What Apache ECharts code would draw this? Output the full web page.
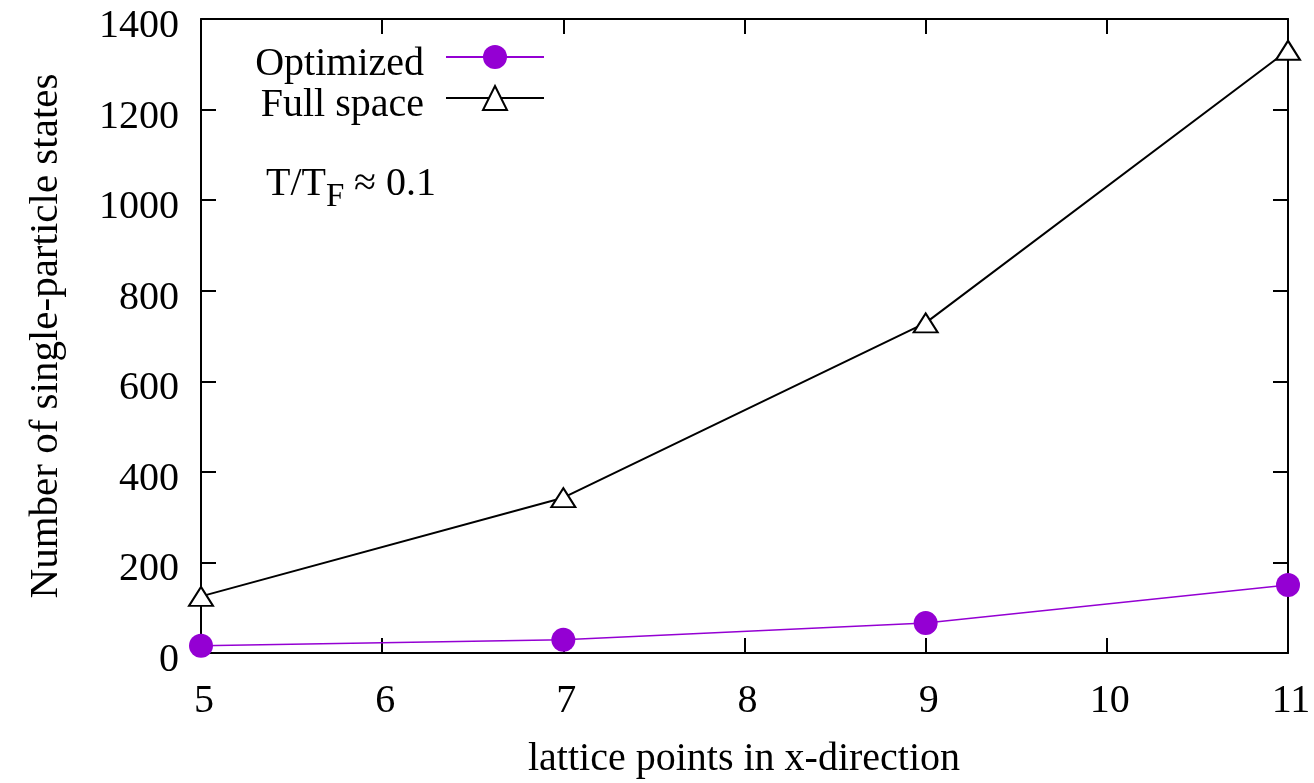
<!DOCTYPE html>
<html>
<head>
<meta charset="utf-8">
<script src="https://cdn.jsdelivr.net/npm/echarts@6/dist/echarts.min.js"></script>
<style>html,body{margin:0;padding:0;background:#fff;}#c{width:1314px;height:783px;}</style>
</head>
<body>
<div id="c"></div>
<script>
const latticePoints = [5, 7, 9, 11];
const optimized = [16, 29, 66, 150];
const fullSpace = [125, 343, 729, 1331];
const xTicks = [5, 6, 7, 8, 9, 10, 11];
const yTicks = [0, 200, 400, 600, 800, 1000, 1200, 1400];
const seriesNames = ['Optimized', 'Full space'];
const xTitle = 'lattice points in x-direction';
const yTitle = 'Number of single-particle states';

const FONT = '"Liberation Serif", "Times New Roman", serif';
const FS = 40;

const chart = echarts.init(document.getElementById('c'), null, {renderer: 'canvas'});

const axisCommon = {
  axisLine: {show: true, onZero: false, lineStyle: {color: '#000', width: 2}},
  axisTick: {show: true, inside: true, length: 15, lineStyle: {color: '#000', width: 2}},
  splitLine: {show: false}
};

const legendText = {
  fontFamily: FONT, fontSize: FS, color: '#000', lineHeight: 40, padding: [0, 17, 0, 0],
  rich: {t: {fontFamily: FONT, fontSize: FS, color: '#000', lineHeight: 40, padding: [14, 0, 0, 0]}}
};

const option = {
  backgroundColor: '#fff',
  animation: false,
  grid: {left: 201, top: 19, right: 26, bottom: 130, containLabel: false},
  xAxis: [
    Object.assign({}, axisCommon, {
      type: 'value', position: 'bottom', min: xTicks[0], max: xTicks[xTicks.length - 1], interval: 1,
      axisLabel: {show: true, margin: 28, color: '#000', fontFamily: FONT, fontSize: FS, lineHeight: 40, padding: [0, 0, 0, 6]}
    }),
    Object.assign({}, axisCommon, {
      type: 'value', position: 'top', min: xTicks[0], max: xTicks[xTicks.length - 1], interval: 1,
      axisLabel: {show: false}
    })
  ],
  yAxis: [
    Object.assign({}, axisCommon, {
      type: 'value', position: 'left', min: yTicks[0], max: yTicks[yTicks.length - 1], interval: 200,
      axisLabel: {show: true, margin: 22, color: '#000', fontFamily: FONT, fontSize: FS, lineHeight: 15, verticalAlign: 'top',
        formatter: v => String(v)}
    }),
    Object.assign({}, axisCommon, {
      type: 'value', position: 'right', min: yTicks[0], max: yTicks[yTicks.length - 1], interval: 200,
      axisLabel: {show: false}
    })
  ],
  legend: [
    {
      data: [seriesNames[0]], orient: 'vertical', align: 'right', right: 769, top: 30, padding: 0,
      itemWidth: 98, itemHeight: 30, itemGap: 0, textStyle: legendText, formatter: '{t|{name}}'
    },
    {
      data: [seriesNames[1]], orient: 'vertical', align: 'right', right: 769, top: 71, padding: 0,
      itemWidth: 98, itemHeight: 30, itemGap: 0, textStyle: legendText, formatter: '{t|{name}}'
    }
  ],
  series: [
    {
      name: seriesNames[0], type: 'line', xAxisIndex: 0, yAxisIndex: 0,
      data: latticePoints.map((x, i) => [x, optimized[i]]),
      symbol: 'circle', symbolSize: 24,
      lineStyle: {color: '#9400d3', width: 1.5},
      itemStyle: {color: '#9400d3', borderWidth: 0},
      z: 3
    },
    {
      name: seriesNames[1], type: 'line', xAxisIndex: 0, yAxisIndex: 0,
      data: latticePoints.map((x, i) => [x, fullSpace[i]]),
      symbol: 'emptyTriangle', symbolSize: [24, 19],
      lineStyle: {color: '#000', width: 2},
      itemStyle: {color: '#000', borderColor: '#000', borderWidth: 2},
      z: 4
    }
  ],
  graphic: [
    {type: 'text', x: 744, y: 759, style: {text: xTitle, fontFamily: FONT, fontSize: FS, fill: '#000', textAlign: 'center', textVerticalAlign: 'middle'}},
    {type: 'text', x: 46, y: 336, rotation: Math.PI / 2, style: {text: yTitle, fontFamily: FONT, fontSize: 41, fill: '#000', textAlign: 'center', textVerticalAlign: 'middle'}},
    {type: 'text', x: 266, y: 184, style: {text: 'T/T', fontFamily: FONT, fontSize: FS, fill: '#000', textAlign: 'left', textVerticalAlign: 'middle'}},
    {type: 'text', x: 326, y: 197, style: {text: 'F', fontFamily: FONT, fontSize: 33, fill: '#000', textAlign: 'left', textVerticalAlign: 'middle'}},
    {type: 'text', x: 354, y: 184, style: {text: '\u2248 0.1', fontFamily: FONT, fontSize: FS, fill: '#000', textAlign: 'left', textVerticalAlign: 'middle'}}
  ]
};
chart.setOption(option);
</script>
</body>
</html>
